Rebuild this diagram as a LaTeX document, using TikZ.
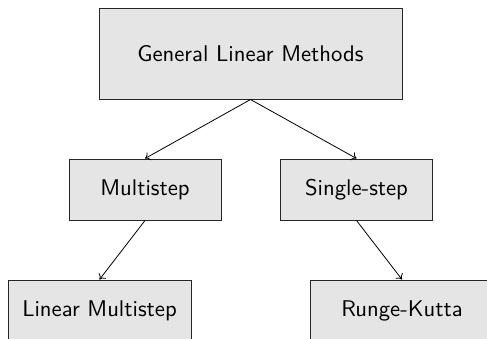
\documentclass[tikz,border=0pt]{standalone}
\usetikzlibrary{arrows.meta}
% labels set in the 10pt sans design, enlarged
\newcommand\boxlabel[1]{\scalebox{2.27}{\fontsize{10}{12}\selectfont\sffamily #1}}
\begin{document}
\begin{tikzpicture}[x=1pt, y=-1pt,
  box/.style={draw=black!85, fill=black!10, line width=1pt, inner sep=0pt,
    align=center},
  topbox/.style={box, minimum width=303pt, minimum height=91pt},
  midbox/.style={box, minimum width=152pt, minimum height=61pt},
  lowbox/.style={box, minimum width=183pt, minimum height=61pt},
  arr/.style={-{To[length=5pt,width=9pt]}, line width=0.8pt}]
  \clip (0,0) rectangle (487,338);
  % method hierarchy
  \node[topbox] (glm) at (250.5,53.5) {\boxlabel{General Linear Methods}};
  \node[midbox] (multi) at (145,189.5) {\boxlabel{Multistep}};
  \node[midbox] (single) at (356.5,189.5) {\boxlabel{Single-step}};
  \node[lowbox] (lmm) at (99.5,310.5) {\boxlabel{Linear Multistep}};
  \node[lowbox] (rk) at (402,310.5) {\boxlabel{Runge-Kutta}};
  % connectors
  \draw[arr] (glm.south) -- (multi.north);
  \draw[arr] (glm.south) -- (single.north);
  \draw[arr] (multi.south) -- (lmm.north);
  \draw[arr] (single.south) -- (rk.north);
\end{tikzpicture}
\end{document}
